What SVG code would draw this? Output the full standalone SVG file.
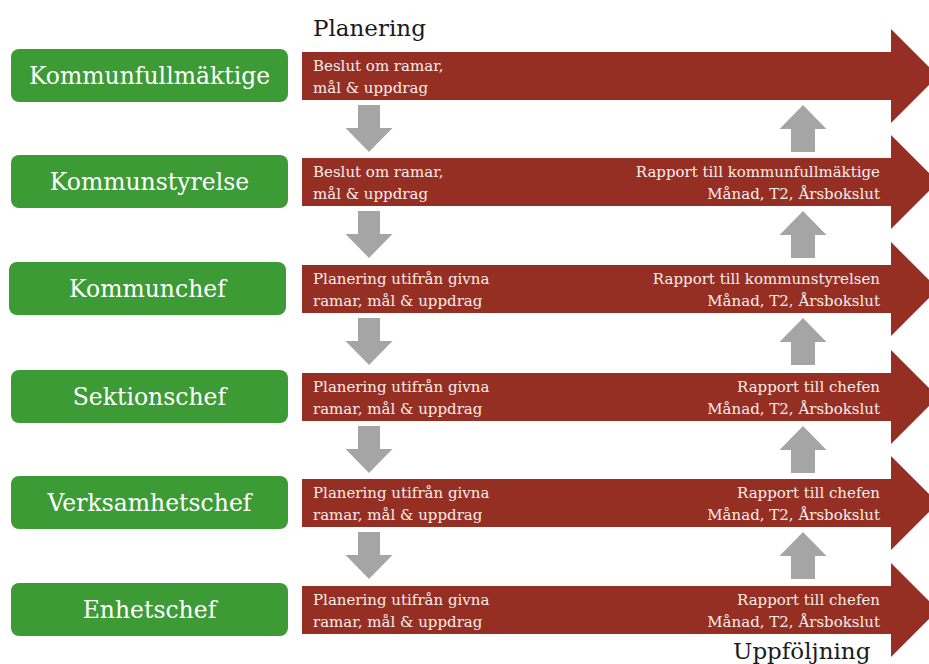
<svg xmlns="http://www.w3.org/2000/svg" width="929" height="664" viewBox="0 0 929 664">
<style>
.box{fill:#3d9b35}
.lbl{font-family:"DejaVu Serif","Liberation Serif",serif;font-size:23.5px;fill:#ffffff;text-anchor:middle}
.band{fill:#952f24}
.t{font-family:"DejaVu Serif","Liberation Serif",serif;font-size:15px;fill:#f7ece9}
.r{text-anchor:end}
.gray{fill:#a5a5a5}
.head{font-family:"DejaVu Serif","Liberation Serif",serif;font-size:23px;fill:#1a1a1a}
</style>
<defs>
<path id="down" d="M-11,0 H11 V23 H23.5 L0,47 L-23.5,23 H-11 Z"/>
<path id="up" d="M0,0 L23.5,24 H12 V47 H-12 V24 H-23.5 Z"/>
<path id="band" d="M302,-24 H891 V-47 L938,0 L891,47 V24 H302 Z"/>
</defs>
<rect width="929" height="664" fill="#ffffff"/>
<text class="head" x="313" y="36">Planering</text>
<text class="head" x="733" y="659">Uppföljning</text>

<g id="row1" transform="translate(0,76)">
<rect class="box" x="11" y="-27" width="277" height="53" rx="8"/>
<text class="lbl" x="149.5" y="8">Kommunfullmäktige</text>
<use href="#band" class="band"/>
<text class="t" x="313" y="-5">Beslut om ramar,</text>
<text class="t" x="313" y="17">mål &amp; uppdrag</text>
</g>
<g id="row2" transform="translate(0,182)">
<rect class="box" x="11" y="-27" width="277" height="53" rx="8"/>
<text class="lbl" x="149.5" y="8">Kommunstyrelse</text>
<use href="#band" class="band"/>
<text class="t" x="313" y="-5">Beslut om ramar,</text>
<text class="t" x="313" y="17">mål &amp; uppdrag</text>
<text class="t r" x="880" y="-5">Rapport till kommunfullmäktige</text>
<text class="t r" x="880" y="17">Månad, T2, Årsbokslut</text>
</g>
<g id="row3" transform="translate(0,289)">
<rect class="box" x="9" y="-27" width="277" height="53" rx="8"/>
<text class="lbl" x="147.5" y="8">Kommunchef</text>
<use href="#band" class="band"/>
<text class="t" x="313" y="-5">Planering utifrån givna</text>
<text class="t" x="313" y="17">ramar, mål &amp; uppdrag</text>
<text class="t r" x="880" y="-5">Rapport till kommunstyrelsen</text>
<text class="t r" x="880" y="17">Månad, T2, Årsbokslut</text>
</g>
<g id="row4" transform="translate(0,397)">
<rect class="box" x="11" y="-27" width="277" height="53" rx="8"/>
<text class="lbl" x="149.5" y="8">Sektionschef</text>
<use href="#band" class="band"/>
<text class="t" x="313" y="-5">Planering utifrån givna</text>
<text class="t" x="313" y="17">ramar, mål &amp; uppdrag</text>
<text class="t r" x="880" y="-5">Rapport till chefen</text>
<text class="t r" x="880" y="17">Månad, T2, Årsbokslut</text>
</g>
<g id="row5" transform="translate(0,503)">
<rect class="box" x="11" y="-27" width="277" height="53" rx="8"/>
<text class="lbl" x="149.5" y="8">Verksamhetschef</text>
<use href="#band" class="band"/>
<text class="t" x="313" y="-5">Planering utifrån givna</text>
<text class="t" x="313" y="17">ramar, mål &amp; uppdrag</text>
<text class="t r" x="880" y="-5">Rapport till chefen</text>
<text class="t r" x="880" y="17">Månad, T2, Årsbokslut</text>
</g>
<g id="row6" transform="translate(0,610)">
<rect class="box" x="11" y="-27" width="277" height="53" rx="8"/>
<text class="lbl" x="149.5" y="8">Enhetschef</text>
<use href="#band" class="band"/>
<text class="t" x="313" y="-5">Planering utifrån givna</text>
<text class="t" x="313" y="17">ramar, mål &amp; uppdrag</text>
<text class="t r" x="880" y="-5">Rapport till chefen</text>
<text class="t r" x="880" y="17">Månad, T2, Årsbokslut</text>
</g>

<g id="connectors" class="gray">
<use href="#down" x="369" y="105"/>
<use href="#down" x="369" y="211"/>
<use href="#down" x="369" y="318"/>
<use href="#down" x="369" y="426"/>
<use href="#down" x="369" y="532"/>
<use href="#up" x="803" y="105"/>
<use href="#up" x="803" y="211"/>
<use href="#up" x="803" y="318"/>
<use href="#up" x="803" y="426"/>
<use href="#up" x="803" y="532"/>
</g>
</svg>
